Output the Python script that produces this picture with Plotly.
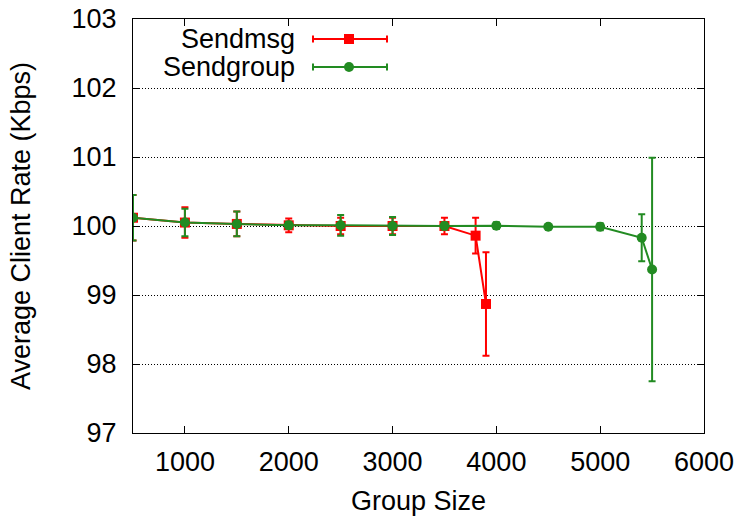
import plotly.graph_objects as go

# ---- data ----
msg_x = [500, 1000, 1500, 2000, 2500, 3000, 3500, 3800, 3900]
msg_y = [100.12, 100.05, 100.03, 100.01, 100.00, 100.00, 100.00, 99.86, 98.87]
msg_err = [0.33, 0.22, 0.18, 0.10, 0.12, 0.12, 0.12, 0.26, 0.75]

grp_x = [500, 1000, 1500, 2000, 2500, 3000, 3500, 4000, 4500, 5000, 5400, 5500]
grp_y = [100.12, 100.05, 100.03, 100.01, 100.01, 100.00, 100.00, 100.005, 99.99, 99.99, 99.83, 99.37]
grp_err = [0.33, 0.20, 0.18, 0.05, 0.15, 0.13, 0.05, 0.05, 0.02, 0.05, 0.34, 1.62]

series_names = ["Sendmsg", "Sendgroup"]
RED = "#ff0000"
GREEN = "#228b22"
FONT = "Liberation Sans, Arial, sans-serif"
FS = 27

fig = go.Figure()
fig.add_trace(go.Scatter(
    x=msg_x, y=msg_y, mode="lines+markers", name=series_names[0],
    line=dict(color=RED, width=2),
    marker=dict(symbol="square", size=10, color=RED),
    error_y=dict(type="data", array=msg_err, color=RED, thickness=2, width=3.5),
))
fig.add_trace(go.Scatter(
    x=grp_x, y=grp_y, mode="lines+markers", name=series_names[1],
    line=dict(color=GREEN, width=2),
    marker=dict(symbol="circle", size=10, color=GREEN),
    error_y=dict(type="data", array=grp_err, color=GREEN, thickness=2, width=3.5),
))

L, R, T, B = 133, 704, 19, 433
W, H = R - L, B - T


def px(xp):
    return (xp - L) / W


def py(yp):
    return (B - yp) / H


shapes = []
annotations = []
legend_items = [(series_names[0], RED, "rect", 39), (series_names[1], GREEN, "circle", 67)]
for name, col, sym, ypix in legend_items:
    yy = py(ypix)
    annotations.append(dict(text=name, x=px(297), y=yy, xref="paper", yref="paper",
                            xanchor="right", yanchor="middle", showarrow=False,
                            font=dict(size=FS, color="black", family=FONT)))
    shapes.append(dict(type="line", xref="paper", yref="paper", x0=px(313), x1=px(387),
                       y0=yy, y1=yy, line=dict(color=col, width=2)))
    for xe in (313, 387):
        shapes.append(dict(type="line", xref="paper", yref="paper",
                           xsizemode="pixel", ysizemode="pixel",
                           xanchor=px(xe), yanchor=yy,
                           x0=0, x1=0, y0=-3.5, y1=3.5, line=dict(color=col, width=2)))
    shapes.append(dict(type=sym, xref="paper", yref="paper",
                       xsizemode="pixel", ysizemode="pixel",
                       xanchor=px(349), yanchor=yy,
                       x0=-5, x1=5, y0=-5, y1=5, fillcolor=col, line=dict(width=0)))

fig.update_layout(
    width=740, height=516,
    margin=dict(l=L, r=740 - R, t=T, b=516 - B, autoexpand=False),
    paper_bgcolor="white", plot_bgcolor="white",
    showlegend=False,
    font=dict(family=FONT, size=FS, color="black"),
    shapes=shapes, annotations=annotations,
)
fig.update_xaxes(
    range=[500, 6000], tickvals=[1000, 2000, 3000, 4000, 5000, 6000],
    ticks="inside", ticklen=7, tickcolor="black", tickwidth=1,
    showline=True, linecolor="black", linewidth=1, mirror="ticks",
    showgrid=False, zeroline=False, automargin=False,
    title=dict(text="Group Size", font=dict(size=FS), standoff=14),
    tickfont=dict(size=FS), ticklabelstandoff=5,
)
fig.update_yaxes(
    range=[97, 103], tickvals=[97, 98, 99, 100, 101, 102, 103],
    ticks="inside", ticklen=7, tickcolor="black", tickwidth=1,
    showline=True, linecolor="black", linewidth=1, mirror="ticks",
    showgrid=True, gridcolor="black", gridwidth=1, griddash="1px,2px",
    zeroline=False, automargin=False,
    title=dict(text="Average Client Rate (Kbps)", font=dict(size=FS), standoff=33),
    tickfont=dict(size=FS), ticklabelstandoff=10,
)

fig.write_html("out.html")
